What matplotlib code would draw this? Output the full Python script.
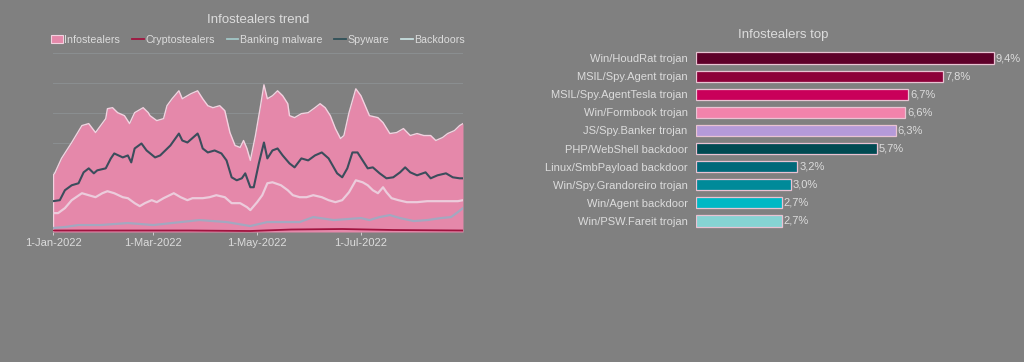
import numpy as np
import matplotlib
matplotlib.use("Agg")
import matplotlib.pyplot as plt
import matplotlib.dates as mdates
from matplotlib.patches import Patch
from matplotlib.lines import Line2D

# ---------------- data ----------------
start = np.datetime64("2022-01-01")

info_days = [0, 1, 5, 11, 17, 21, 25, 28, 31, 32, 35, 38, 42, 45, 48, 53, 56, 57, 61, 65, 67, 70, 74, 76,
             81, 85, 88, 91, 94, 98, 101, 104, 107, 110, 112, 114, 116, 119, 122, 124, 126, 129, 132,
             135, 138, 139, 142, 146, 150, 154, 157, 160, 163, 166, 169, 171, 174, 178, 181, 184, 186,
             191, 194, 198, 202, 206, 210, 214, 218, 222, 225, 229, 232, 236, 239, 241]
info_vals = [57, 59, 74, 90, 107, 109, 100, 107, 114, 124, 125, 120, 117, 109, 120, 125, 120, 117, 112,
             114, 127, 134, 142, 134, 139, 142, 134, 127, 125, 127, 122, 100, 87, 85, 92, 84, 72, 97,
             127, 148, 134, 137, 142, 137, 129, 117, 115, 119, 120, 125, 129, 125, 117, 104, 94, 97,
             120, 144, 137, 125, 117, 115, 110, 99, 100, 104, 97, 99, 97, 97, 92, 95, 99, 102, 107, 109]

spy_days = [0, 4, 7, 11, 15, 18, 21, 24, 26, 31, 34, 36, 41, 44, 46, 48, 52, 55, 60, 63, 66, 69, 74, 76,
            79, 85, 86, 88, 91, 95, 99, 102, 105, 108, 111, 113, 116, 118, 121, 124, 126, 129, 132, 135,
            139, 142, 146, 150, 154, 158, 162, 167, 170, 173, 176, 179, 182, 185, 188, 192, 196, 200,
            204, 207, 210, 214, 219, 222, 226, 231, 235, 239, 241]
spy_vals = [31, 32, 42, 47, 49, 60, 64, 59, 62, 64, 74, 79, 75, 77, 70, 84, 89, 82, 75, 77, 82, 87, 99,
            92, 90, 99, 95, 84, 80, 82, 79, 72, 55, 52, 54, 59, 45, 45, 69, 90, 74, 82, 84, 77, 69, 65,
            74, 72, 77, 80, 74, 59, 55, 64, 80, 80, 72, 64, 65, 59, 54, 55, 60, 65, 60, 57, 60, 54, 57,
            59, 55, 54, 54]

back_days = [0, 3, 7, 11, 17, 21, 25, 29, 32, 36, 41, 44, 48, 51, 54, 58, 61, 65, 71, 75, 79, 82, 88, 92,
             96, 101, 105, 110, 114, 116, 120, 123, 126, 129, 134, 138, 141, 145, 149, 153, 158, 162,
             166, 170, 174, 178, 182, 185, 188, 191, 194, 196, 199, 203, 208, 214, 220, 226, 232, 238, 241]
back_vals = [19, 19, 24, 32, 39, 37, 35, 39, 41, 39, 35, 34, 29, 26, 29, 32, 30, 34, 39, 35, 32, 34, 34,
             35, 37, 35, 29, 29, 25, 22, 30, 37, 49, 50, 47, 42, 37, 35, 35, 37, 35, 32, 30, 32, 40, 52,
             50, 47, 42, 39, 45, 40, 34, 32, 30, 30, 31, 31, 31, 31, 32]

bank_days = [0, 7, 15, 28, 44, 59, 86, 102, 116, 126, 145, 153, 165, 181, 186, 192, 198, 204, 212, 220,
             228, 234, 238, 241]
bank_vals = [4, 5, 7, 7, 9, 7, 12, 10, 6, 10, 10, 15, 12, 14, 12, 15, 17, 14, 11, 12, 14, 15, 20, 24]

crypto_days = [0, 40, 80, 116, 140, 170, 200, 241]
crypto_vals = [1.5, 1.5, 1.5, 1.0, 2.5, 3.0, 2.0, 1.5]

top_names = ["Win/HoudRat trojan", "MSIL/Spy.Agent trojan", "MSIL/Spy.AgentTesla trojan",
             "Win/Formbook trojan", "JS/Spy.Banker trojan", "PHP/WebShell backdoor",
             "Linux/SmbPayload backdoor", "Win/Spy.Grandoreiro trojan", "Win/Agent backdoor",
             "Win/PSW.Fareit trojan"]
top_vals = [9.4, 7.8, 6.7, 6.6, 6.3, 5.7, 3.2, 3.0, 2.7, 2.7]
top_labels = ["9,4%", "7,8%", "6,7%", "6,6%", "6,3%", "5,7%", "3,2%", "3,0%", "2,7%", "2,7%"]

# ---------------- style ----------------
BG = "#808080"
TXT = "#dcdcdc"
plt.rcParams["font.family"] = ["Liberation Sans", "DejaVu Sans"]

fig = plt.figure(figsize=(10.24, 3.62), dpi=100, facecolor=BG)

def to_dates(days):
    return start + np.array(days).astype("timedelta64[D]")

# ---------------- left chart ----------------
ax = fig.add_axes([53 / 1024, 1 - 232 / 362, 410 / 1024, 179 / 362], facecolor=BG)
for s in ax.spines.values():
    s.set_visible(False)
ax.set_ylim(0, 180)
ax.set_yticks([30, 60, 90, 120, 150, 180])
ax.yaxis.grid(True, color="#8a8e90", lw=0.8)
ax.tick_params(axis="y", left=False, labelleft=False)
ax.set_axisbelow(True)

d_info = to_dates(info_days)
ax.fill_between(d_info, 0, info_vals, color="#e588aa", lw=0, zorder=2)
ax.plot(d_info, info_vals, color="#f2d2e0", lw=1.0, zorder=3)
ax.plot([d_info[0], d_info[0]], [0, info_vals[0]], color="#f2d2e0", lw=1.0, zorder=3)
ax.plot(to_dates(crypto_days), crypto_vals, color="#a0143f", lw=1.3, zorder=4)
ax.plot(to_dates(bank_days), bank_vals, color="#a3a8c0", lw=1.6, zorder=4)
ax.plot(to_dates(back_days), back_vals, color="#ecccdc", lw=1.6, zorder=4)
ax.plot(to_dates(spy_days), spy_vals, color="#3b4d5c", lw=1.5, zorder=5)

ax.set_xlim(start, start + np.timedelta64(241, "D"))
ax.xaxis.set_major_locator(mdates.MonthLocator(bymonth=[1, 3, 5, 7]))
ax.xaxis.set_major_formatter(mdates.DateFormatter("%-d-%b-%Y"))
ax.tick_params(axis="x", colors=TXT, labelsize=8, length=2, pad=2, width=0.6)

fig.text(258 / 1024, 1 - 20 / 362, "Infostealers trend", ha="center", va="center",
         color=TXT, fontsize=9.5)
handles = [Patch(facecolor="#e588aa", edgecolor="#f2d2e0", lw=0.8),
           Line2D([], [], color="#a0143f", lw=1.3),
           Line2D([], [], color="#a3c8c8", lw=1.3),
           Line2D([], [], color="#2f5058", lw=1.3),
           Line2D([], [], color="#c8e0e0", lw=1.3)]
labels = ["Infostealers", "Cryptostealers", "Banking malware", "Spyware", "Backdoors"]
leg = fig.legend(handles, labels, loc="center", bbox_to_anchor=(258 / 1024, 1 - 40 / 362), ncol=5,
                 frameon=False, fontsize=7.7, handlelength=1.1, handletextpad=0.15,
                 columnspacing=1.1, handleheight=0.8)
for t in leg.get_texts():
    t.set_color(TXT)

# ---------------- right chart ----------------
bx = fig.add_axes([696 / 1024, 1 - 230 / 362, 317 / 1024, 181 / 362], facecolor=BG)
bx.patch.set_alpha(0)
for s in bx.spines.values():
    s.set_visible(False)
colors = ["#5e0029", "#8d0039", "#c9005a", "#f283ab", "#b59ad9", "#004a52",
          "#00697a", "#008a99", "#00b8c5", "#86d3d3"]
y = np.arange(len(top_names))
bx.barh(y, top_vals, height=0.62, color=colors, edgecolor="#e9c3d3", linewidth=0.9)
bx.set_xlim(0, 10)
bx.set_ylim(len(top_names) - 0.5, -0.5)
bx.set_yticks(y)
bx.set_yticklabels(top_names)
bx.tick_params(axis="y", length=0, colors=TXT, labelsize=8, pad=6)
bx.tick_params(axis="x", bottom=False, labelbottom=False)
for yi, v, lab in zip(y, top_vals, top_labels):
    bx.text(v + 0.06, yi, lab, va="center", ha="left", color=TXT, fontsize=8)
fig.text(783 / 1024, 1 - 35 / 362, "Infostealers top", ha="center", va="center",
         color=TXT, fontsize=9.5)

fig.savefig("out.png", dpi=100, facecolor=BG)
